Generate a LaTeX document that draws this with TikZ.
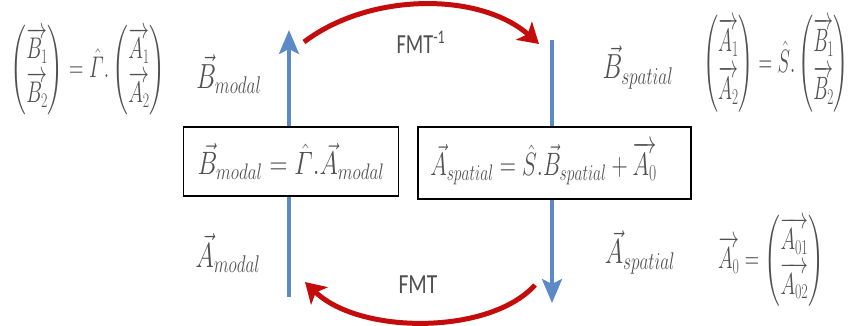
\documentclass[tikz,border=0pt]{standalone}
\usepackage{amsmath}
\usepackage{fontspec}
\newfontfamily\fmtfont{Carlito}
\usetikzlibrary{arrows.meta}
\definecolor{bluearr}{RGB}{91,138,198}
\definecolor{redarr}{RGB}{196,12,12}
\definecolor{txtgray}{RGB}{80,80,80}
\tikzset{
 bluearrow/.style={draw=bluearr, line width=4pt, -{Stealth[length=24pt,width=20pt,inset=5pt]}},
 redarrow/.style={draw=redarr, line width=5pt, -{Stealth[length=20pt,width=24pt,inset=5pt]}},
 eqbox/.style={draw=black, line width=1.3pt, fill=white, inner sep=0pt, text=txtgray, font=\fontsize{24}{28}\selectfont},
 mathtxt/.style={text=txtgray, font=\fontsize{24}{28}\selectfont, inner sep=0pt},
 fmt/.style={text=txtgray, font=\fmtfont\fontsize{24}{28}\selectfont, inner sep=0pt},
}
\newcommand{\colvec}[2]{\begin{pmatrix}#1\\[2pt] #2\end{pmatrix}}
\begin{document}
\begin{tikzpicture}[x=1pt,y=-1pt]
\useasboundingbox (0,0) rectangle (850,325);
% blue arrows
\coordinate (lb) at (289,297);
\coordinate (lt) at (289,30);
\coordinate (rt) at (552,40);
\coordinate (rb) at (552,303);
\draw[bluearrow] (lb) -- (lt);
\draw[bluearrow] (rt) -- (rb);
% red arcs
\coordinate (ts) at (304,42);
\coordinate (te) at (539,44);
\draw[redarrow] (ts) .. controls (370,-8) and (480,-8) .. (te);
\coordinate (bs) at (535,285);
\coordinate (be) at (305,282);
\draw[redarrow] (bs) .. controls (490,335) and (360,335) .. (be);
% boxes
\node[eqbox, minimum width=215pt, minimum height=69pt] (boxl) at (291,161.5) {\scalebox{1}[1.3]{$\vec{B}_{modal}=\hat{\varGamma}.\vec{A}_{modal}$}};
\node[eqbox, minimum width=273pt, minimum height=72pt] (boxr) at (554.5,163) {\hspace*{-22pt}\scalebox{0.9}[1.3]{$\vec{A}_{spatial}=\hat{S}.\vec{B}_{spatial}+\overrightarrow{A_0}$}};
% labels
\node[fmt] (fmti) at (421,42) {\scalebox{0.85}[1.15]{FMT\textsuperscript{-1}}};
\node[fmt] (fmt) at (418,285) {\scalebox{0.9}[1.15]{FMT}};
\node[mathtxt] (bmod) at (229,74) {\scalebox{1}[1.4]{$\vec{B}_{modal}$}};
\node[mathtxt] (bsp) at (638,67) {\scalebox{1}[1.4]{$\vec{B}_{spatial}$}};
\node[mathtxt] (amod) at (228,253) {\scalebox{1}[1.4]{$\vec{A}_{modal}$}};
\node[mathtxt] (asp) at (640,252) {\scalebox{1}[1.4]{$\vec{A}_{spatial}$}};
% equations
\node[mathtxt] (eql) at (88,70) {\scalebox{0.8}[1.2]{$\colvec{\overrightarrow{B_1}}{\overrightarrow{B_2}}=\hat{\varGamma}.\colvec{\overrightarrow{A_1}}{\overrightarrow{A_2}}$}};
\node[mathtxt] (eqr) at (776,64) {\scalebox{0.76}[1.3]{$\colvec{\overrightarrow{A_1}}{\overrightarrow{A_2}}=\hat{S}.\colvec{\overrightarrow{B_1}}{\overrightarrow{B_2}}$}};
\node[mathtxt] (eqa) at (771,261) {\scalebox{0.8}[1.22]{$\overrightarrow{A_0}=\colvec{\overrightarrow{A_{01}}}{\overrightarrow{A_{02}}}$}};
\end{tikzpicture}
\end{document}
